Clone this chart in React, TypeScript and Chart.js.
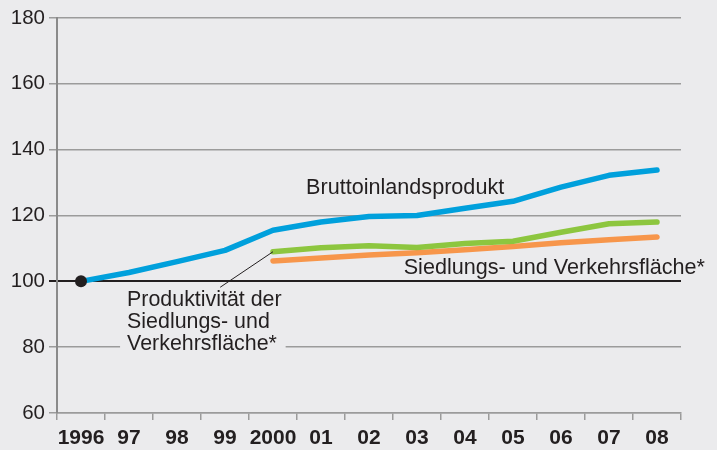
import React, { useEffect, useRef } from "react";
import { Chart, registerables } from "chart.js";
Chart.register(...registerables);

const years = ["1996", "97", "98", "99", "2000", "01", "02", "03", "04", "05", "06", "07", "08"];
const bruttoinlandsprodukt = [100, 102.7, 106, 109.4, 115.5, 118, 119.7, 120, 122.2, 124.3, 128.6, 132.2, 133.8];
const produktivitaet = [null, null, null, null, 109, 110.2, 110.8, 110.3, 111.5, 112.2, 114.9, 117.5, 118];
const siedlungsflaeche = [null, null, null, null, 106.2, 107.1, 108, 108.7, 109.6, 110.6, 111.7, 112.6, 113.5];
const basisPunkt = [100, null, null, null, null, null, null, null, null, null, null, null, null];

const yMin = 60;
const yMax = 180;
const yStep = 20;
const baseValue = 100;

const labelBip = ["Bruttoinlandsprodukt"];
const labelFlaeche = ["Siedlungs- und Verkehrsfläche*"];
const labelProd = ["Produktivität der", "Siedlungs- und", "Verkehrsfläche*"];

const BG = "#EBEBED";
const TEXT = "#231F20";
const GRID = "#9B9B9B";
const BLUE = "#00A0DC";
const GREEN = "#8DC63F";
const ORANGE = "#F7964B";
const FONT = "'Liberation Sans', Arial, Helvetica, sans-serif";

const annotationPlugin = {
  id: "annotations",
  afterDatasetsDraw(chart: any) {
    const ctx = chart.ctx;
    const x = chart.scales.x;
    const y = chart.scales.y;
    ctx.save();
    ctx.font = `21.6px ${FONT}`;
    ctx.fillStyle = TEXT;
    ctx.textBaseline = "alphabetic";

    // Bruttoinlandsprodukt
    ctx.textAlign = "left";
    ctx.fillText(labelBip[0], x.getPixelForValue(4.69), y.getPixelForValue(126.4));

    // Siedlungs- und Verkehrsfläche*
    ctx.textAlign = "right";
    ctx.fillText(labelFlaeche[0], x.getPixelForValue(13.0), y.getPixelForValue(102.1));

    // Produktivität block with background
    ctx.font = `21.4px ${FONT}`;
    const px = x.getPixelForValue(0.96);
    const py = y.getPixelForValue(92.5);
    const lh = 22;
    let maxW = 0;
    labelProd.forEach((l) => (maxW = Math.max(maxW, ctx.measureText(l).width)));
    ctx.fillStyle = BG;
    ctx.fillRect(px - 7, py - 18, maxW + 11, lh * (labelProd.length - 1) + 24);
    ctx.fillStyle = TEXT;
    ctx.textAlign = "left";
    labelProd.forEach((l, i) => ctx.fillText(l, px, py + i * lh));

    // leader line
    ctx.strokeStyle = TEXT;
    ctx.lineWidth = 1;
    ctx.beginPath();
    ctx.moveTo(x.getPixelForValue(2.9), y.getPixelForValue(98.2));
    ctx.lineTo(x.getPixelForValue(4), y.getPixelForValue(109));
    ctx.stroke();
    ctx.restore();
  },
};

export default function App() {
  const ref = useRef<HTMLCanvasElement>(null);
  useEffect(() => {
    document.body.style.margin = "0";
    const lineDs = (data: any[], color: string, order: number) => ({
      data,
      borderColor: color,
      backgroundColor: color,
      borderWidth: 5.5,
      pointRadius: 0,
      borderCapStyle: "round",
      borderJoinStyle: "round",
      tension: 0,
      spanGaps: false,
      order,
    });
    const chart = new Chart(ref.current!, {
      type: "line",
      data: {
        labels: years,
        datasets: [
          {
            data: basisPunkt,
            showLine: false,
            pointRadius: 6,
            pointBackgroundColor: TEXT,
            pointBorderColor: TEXT,
            pointBorderWidth: 0,
            order: 0,
          } as any,
          lineDs(bruttoinlandsprodukt, BLUE, 1),
          lineDs(produktivitaet, GREEN, 2),
          lineDs(siedlungsflaeche, ORANGE, 3),
        ],
      },
      options: {
        animation: false,
        responsive: false,
        layout: { padding: { top: 18, right: 36, left: 0, bottom: 0 } },
        plugins: { legend: { display: false }, tooltip: { enabled: false } },
        scales: {
          x: {
            offset: true,
            grid: {
              offset: true,
              drawOnChartArea: false,
              drawTicks: true,
              tickLength: 7,
              color: GRID,
              lineWidth: 1.5,
            },
            border: { display: true, color: GRID, width: 1.5 },
            ticks: {
              color: TEXT,
              font: { family: FONT, size: 21, weight: "bold" },
              padding: 6,
              maxRotation: 0,
              autoSkip: false,
            },
            afterFit: (s: any) => {
              s.height = 37;
            },
          },
          y: {
            min: yMin,
            max: yMax,
            ticks: {
              stepSize: yStep,
              color: TEXT,
              font: { family: FONT, size: 20.5 },
              padding: 4,
            },
            grid: {
              color: (c: any) => (c.tick && c.tick.value === baseValue ? TEXT : GRID),
              lineWidth: (c: any) => (c.tick && c.tick.value === baseValue ? 2 : 1.5),
              tickLength: 8,
            },
            border: { display: true, color: "#8A8A8A", width: 2 },
            afterFit: (s: any) => {
              s.width = 57;
            },
          },
        },
      },
      plugins: [annotationPlugin],
    } as any);
    return () => chart.destroy();
  }, []);
  return (
    <div style={{ width: 717, height: 450, background: BG }}>
      <canvas ref={ref} width={717} height={450} style={{ display: "block" }} />
    </div>
  );
}
